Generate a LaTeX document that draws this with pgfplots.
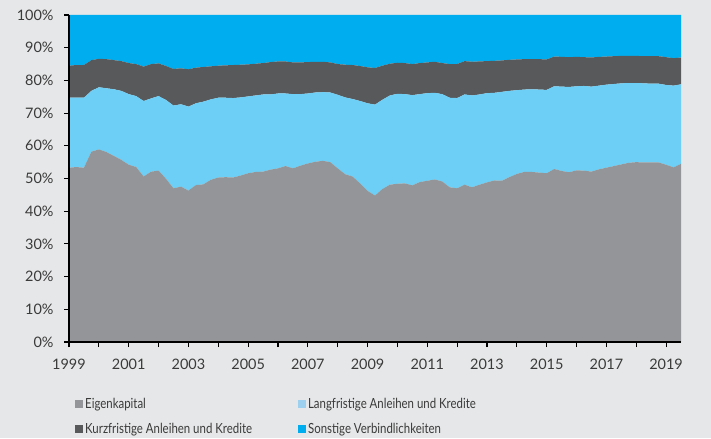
\documentclass[border=0pt]{standalone}
\usepackage{pgfplots}
\pgfplotsset{compat=1.18}
\usepackage{pgfplotstable}
\usepackage{fontspec}
\setmainfont{Lato}
\newfontfamily\legendfont{Lato}[FakeStretch=0.82]

\definecolor{bg}{HTML}{E6E7E8}
\definecolor{eigen}{HTML}{939598}
\definecolor{lang}{HTML}{6DCFF6}
\definecolor{langleg}{HTML}{9DCFEE}
\definecolor{kurz}{HTML}{58595B}
\definecolor{sonst}{HTML}{00AEEF}
\definecolor{txt}{HTML}{3A3A3A}

% cumulative upper edges (in %) read quarterly from 1999 Q1 (i=0)
% E = Eigenkapital, L = E + Langfristige, K = L + Kurzfristige
\pgfplotstableread{
i  E    L    K
0  53.3 74.7 84.5
1  53.5 74.7 84.7
2  53.3 74.7 84.7
3  58.2 76.8 86.2
4  58.9 77.9 86.6
5  58.1 77.6 86.5
6  56.9 77.3 86.2
7  55.7 76.8 85.9
8  54.2 75.8 85.3
9  53.5 75.2 85.0
10 50.6 73.7 84.2
11 52.1 74.5 85.0
12 52.4 75.2 85.2
13 49.9 74.0 84.4
14 47.0 72.3 83.5
15 47.5 72.7 83.7
16 46.3 72.0 83.4
17 48.0 73.0 83.9
18 48.2 73.5 84.1
19 49.6 74.2 84.3
20 50.3 74.7 84.5
21 50.4 74.7 84.6
22 50.3 74.6 84.7
23 50.9 74.8 84.8
24 51.6 75.1 84.9
25 52.0 75.4 85.1
26 52.1 75.7 85.3
27 52.7 75.7 85.6
28 53.1 76.0 85.8
29 53.8 76.0 85.8
30 53.1 75.8 85.5
31 53.9 75.8 85.5
32 54.6 76.0 85.6
33 55.1 76.3 85.7
34 55.4 76.4 85.7
35 55.0 76.3 85.5
36 53.1 75.6 85.0
37 51.3 74.8 84.8
38 50.6 74.3 84.7
39 48.5 73.7 84.4
40 46.2 73.0 84.0
41 44.8 72.6 83.8
42 46.8 74.1 84.5
43 48.1 75.4 85.1
44 48.4 75.9 85.4
45 48.5 75.8 85.3
46 47.9 75.5 85.0
47 48.9 75.8 85.3
48 49.3 76.1 85.5
49 49.7 76.2 85.7
50 49.1 75.8 85.3
51 47.3 74.7 85.0
52 47.0 74.6 85.0
53 48.1 75.7 85.9
54 47.3 75.4 85.7
55 48.1 75.7 85.8
56 48.8 76.1 85.9
57 49.4 76.2 86.0
58 49.3 76.5 86.1
59 50.4 76.8 86.3
60 51.4 77.0 86.4
61 52.0 77.2 86.5
62 52.0 77.3 86.5
63 51.8 77.2 86.5
64 51.6 77.1 86.4
65 52.9 78.2 87.3
66 52.3 78.1 87.2
67 51.9 78.0 87.1
68 52.5 78.2 87.2
69 52.4 78.3 87.1
70 52.1 78.1 87.0
71 52.8 78.4 87.2
72 53.3 78.7 87.3
73 53.8 78.9 87.4
74 54.3 79.1 87.5
75 54.8 79.2 87.5
76 55.0 79.2 87.5
77 54.9 79.1 87.4
78 54.9 79.0 87.4
79 54.9 79.0 87.4
80 54.2 78.6 87.1
81 53.4 78.4 86.8
82 54.5 78.8 87.0
}\shares

\begin{document}
\begin{tikzpicture}
\fill[bg] (-69bp,-96bp) rectangle (642bp,342bp);
\begin{axis}[
    at={(0,0)}, anchor=south west,
    scale only axis, width=612bp, height=327bp,
    xmin=1999, xmax=2019.5, ymin=0, ymax=100,
    stack plots=y, area style,
    axis on top,
    axis x line*=bottom, axis y line*=left,
    axis line style={black, line width=1.3pt, -},
    tick align=outside,
    major tick length=5bp, minor tick length=5bp,
    tick style={black, line width=1.2pt},
    xtick={1999,2001,...,2019},
    minor xtick={2000,2002,...,2018},
    xticklabels={1999,2001,2003,2005,2007,2009,2011,2013,2015,2017,2019},
    ytick={0,10,...,100},
    yticklabels={0\%,10\%,20\%,30\%,40\%,50\%,60\%,70\%,80\%,90\%,100\%},
    tick label style={font=\fontsize{14.5}{16}\selectfont, text=txt},
    xticklabel style={yshift=-9bp},
    yticklabel style={xshift=-7bp},
    legend columns=2,
    legend cell align=left,
    legend style={draw=none, fill=none,
        at={(axis description cs:0,0)}, anchor=north west,
        xshift=3bp, yshift=-52bp,
        font=\legendfont\fontsize{14}{16}\selectfont, text=txt,
        row sep=9bp,
        /tikz/every even column/.append style={column sep=44bp}},
]
\addplot[fill=eigen, draw=none,
    legend image code/.code={\fill[eigen] (0bp,-4bp) rectangle (8bp,4bp);}]
    table[x expr=1999+\thisrow{i}/4, y=E] {\shares} \closedcycle;
\addlegendentry{Eigenkapital}
\addplot[fill=lang, draw=none,
    legend image code/.code={\fill[langleg] (0bp,-4bp) rectangle (8bp,4bp);}]
    table[x expr=1999+\thisrow{i}/4, y expr=\thisrow{L}-\thisrow{E}] {\shares} \closedcycle;
\addlegendentry{Langfristige Anleihen und Kredite}
\addplot[fill=kurz, draw=none,
    legend image code/.code={\fill[kurz] (0bp,-4bp) rectangle (8bp,4bp);}]
    table[x expr=1999+\thisrow{i}/4, y expr=\thisrow{K}-\thisrow{L}] {\shares} \closedcycle;
\addlegendentry{Kurzfristige Anleihen und Kredite}
\addplot[fill=sonst, draw=none,
    legend image code/.code={\fill[sonst] (0bp,-4bp) rectangle (8bp,4bp);}]
    table[x expr=1999+\thisrow{i}/4, y expr=100-\thisrow{K}] {\shares} \closedcycle;
\addlegendentry{Sonstige Verbindlichkeiten}
\end{axis}
\end{tikzpicture}
\end{document}
